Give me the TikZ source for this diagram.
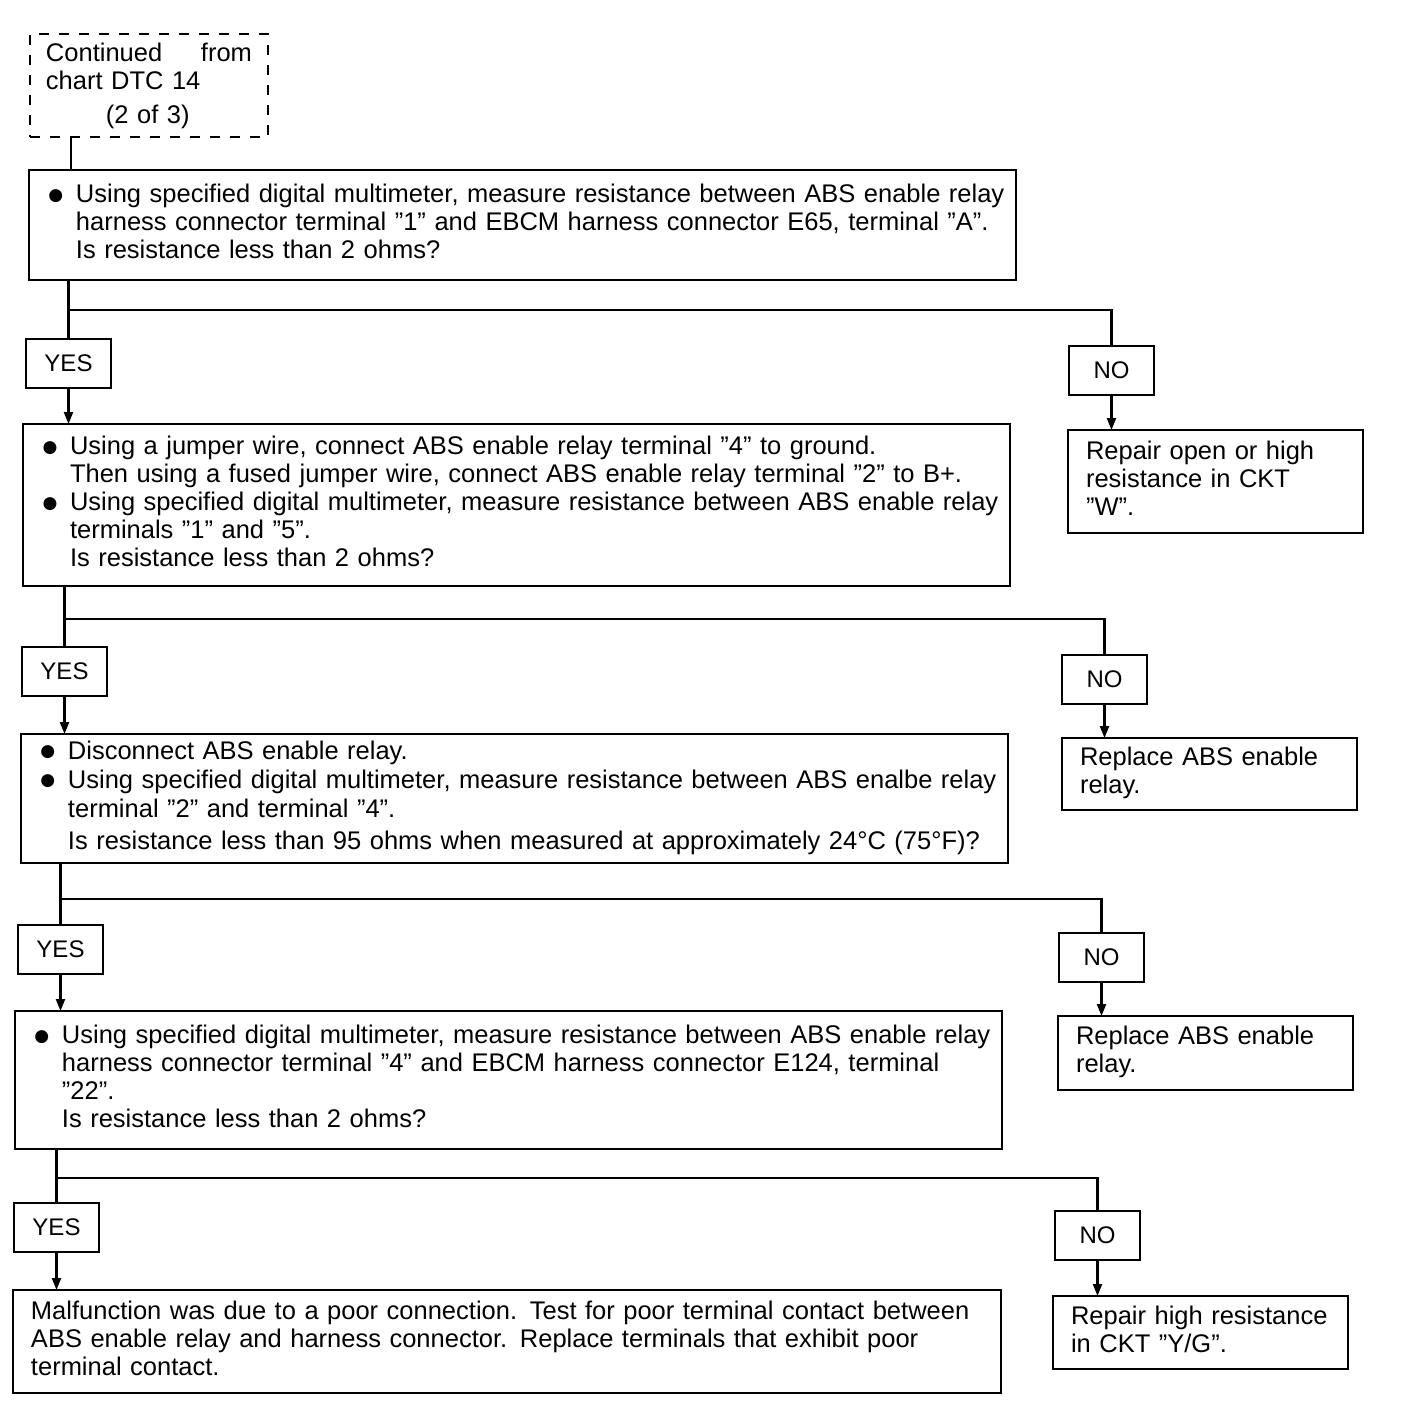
\documentclass[tikz,border=0pt]{standalone}
\usepackage{fontspec}
\setmainfont{Liberation Sans}
\newfontfamily\symbfont{DejaVu Sans}
\usepackage{tikz}
\usetikzlibrary{arrows.meta, positioning}

\newcommand{\bigbullet}{\raisebox{1.2pt}{\symbfont\fontsize{8.5}{14}\selectfont ●}}

\begin{document}
\begin{tikzpicture}[
    x=0.5pt, y=0.5pt,
    line width=1.1pt,
    contbox/.style={rectangle, draw, dash pattern=on 5pt off 5pt, anchor=north west, outer sep=0pt, text width=103pt, inner xsep=8pt, inner ysep=0pt, minimum height=51.5pt, align=left, font=\fontsize{12.75}{14}\selectfont},
    qbox/.style={rectangle, draw, anchor=north west, outer sep=0pt, text width=476pt, inner xsep=8.75pt, inner ysep=0pt, align=left, font=\fontsize{12.75}{14}\selectfont},
    ansbox/.style={rectangle, draw, outer sep=0pt, minimum width=42.5pt, minimum height=24.5pt, inner sep=0pt, font=\fontsize{12}{14}\selectfont},
    fixbox/.style={rectangle, draw, anchor=north west, outer sep=0pt, text width=129.5pt, inner xsep=9pt, inner ysep=0pt, align=left, font=\fontsize{12.75}{14}\selectfont},
    arrow/.style={-{Triangle[length=6pt, width=4.5pt]}}
]
\useasboundingbox (0,0) rectangle (1408,-1414);

% Top: entry from the previous chart
\node[contbox] (cont) at (30,-34) {Continued\hfill from\\chart DTC 14\\[3pt]\hspace*{30pt}(2 of 3)};

% Row 1: CKT W check
\node[qbox, minimum height=55pt, below=16.5pt of cont.south west, anchor=north west, xshift=-0.5pt] (q1) {%
\begin{tabular}{@{\hspace{1pt}}p{13.75pt}@{}l@{}}
\bigbullet & Using specified digital multimeter, measure resistance between ABS enable relay\\
 & harness connector terminal ”1” and EBCM harness connector E65, terminal ”A”.\\
 & Is resistance less than 2 ohms?
\end{tabular}};
\node[ansbox, below=29.5pt of q1.south west, anchor=north west, xshift=-1.5pt] (yes1) {YES};
\node[ansbox, below right=33pt and 26.5pt of q1.south east] (no1) {NO};
\node[fixbox, minimum height=51.5pt, below=17.5pt of no1.south west, anchor=north west, xshift=-0.5pt] (fix1) {%
\begin{tabular}{@{}l@{}}
Repair open or high\\
resistance in CKT\\
”W”.
\end{tabular}};

% Row 2: relay contacts
\node[qbox, minimum height=81pt, below=18pt of yes1.south west, anchor=north west, xshift=-1.5pt] (q2) {%
\begin{tabular}{@{\hspace{1pt}}p{13.75pt}@{}l@{}}
\bigbullet & Using a jumper wire, connect ABS enable relay terminal ”4” to ground.\\
 & Then using a fused jumper wire, connect ABS enable relay terminal ”2” to B+.\\
\bigbullet & Using specified digital multimeter, measure resistance between ABS enable relay\\
 & terminals ”1” and ”5”.\\
 & Is resistance less than 2 ohms?
\end{tabular}};
\node[ansbox, below=30.5pt of q2.south west, anchor=north west, xshift=-0.5pt] (yes2) {YES};
\node[ansbox, below right=34.5pt and 26pt of q2.south east] (no2) {NO};
\node[fixbox, minimum height=36pt, below=17pt of no2.south west, anchor=north west] (fix2) {%
\begin{tabular}{@{}l@{}}
Replace ABS enable\\
relay.
\end{tabular}};

% Row 3: relay coil
\node[qbox, minimum height=64.5pt, font=\fontsize{12.75}{14.5}\selectfont, below=19pt of yes2.south west, anchor=north west, xshift=-0.5pt] (q3) {%
\begin{tabular}{@{\hspace{1pt}}p{13.75pt}@{}l@{}}
\bigbullet & Disconnect ABS enable relay.\\
\bigbullet & Using specified digital multimeter, measure resistance between ABS enalbe relay\\
 & terminal ”2” and terminal ”4”.\\[1.5pt]
 & Is resistance less than 95 ohms when measured at approximately 24°C (75°F)?
\end{tabular}};
\node[ansbox, below=31pt of q3.south west, anchor=north west, xshift=-1.5pt] (yes3) {YES};
\node[ansbox, below right=35pt and 25.5pt of q3.south east] (no3) {NO};
\node[fixbox, minimum height=37pt, below=17pt of no3.south west, anchor=north west, xshift=-0.5pt] (fix3) {%
\begin{tabular}{@{}l@{}}
Replace ABS enable\\
relay.
\end{tabular}};

% Row 4: CKT Y/G check
\node[qbox, minimum height=69pt, below=18.5pt of yes3.south west, anchor=north west, xshift=-1.5pt] (q4) {%
\begin{tabular}{@{\hspace{1pt}}p{13.75pt}@{}l@{}}
\bigbullet & Using specified digital multimeter, measure resistance between ABS enable relay\\
 & harness connector terminal ”4” and EBCM harness connector E124, terminal\\
 & ”22”.\\
 & Is resistance less than 2 ohms?
\end{tabular}};
\node[ansbox, below=27pt of q4.south west, anchor=north west, xshift=-0.5pt] (yes4) {YES};
\node[ansbox, below right=31pt and 26.5pt of q4.south east] (no4) {NO};
\node[fixbox, minimum height=36.5pt, below=18pt of no4.south west, anchor=north west, xshift=-1pt] (fix4) {%
\begin{tabular}{@{}l@{}}
Repair high resistance\\
in CKT ”Y/G”.
\end{tabular}};

% Bottom: end of chart
\node[qbox, minimum height=51.5pt, inner xsep=9pt, below=19pt of yes4.south west, anchor=north west, xshift=-0.5pt] (done) {%
\begin{tabular}{@{}l@{}}
Malfunction was due to a poor connection. Test for poor terminal contact between\\
ABS enable relay and harness connector. Replace terminals that exhibit poor\\
terminal contact.
\end{tabular}};

% Connectors
\coordinate (stem0) at ([xshift=20.5pt]cont.south west);
\draw (stem0) -- (stem0 |- q1.north);

\coordinate (split1) at ([yshift=-15pt]q1.south);
\draw (yes1.north |- q1.south) -- (yes1.north);
\draw (yes1.north |- split1) -| (no1.north);
\draw[arrow] (yes1.south) -- (yes1.south |- q2.north);
\draw[arrow] (no1.south) -- (no1.south |- fix1.north);

\coordinate (split2) at ([yshift=-16.5pt]q2.south);
\draw (yes2.north |- q2.south) -- (yes2.north);
\draw (yes2.north |- split2) -| (no2.north);
\draw[arrow] (yes2.south) -- (yes2.south |- q3.north);
\draw[arrow] (no2.south) -- (no2.south |- fix2.north);

\coordinate (split3) at ([yshift=-18pt]q3.south);
\draw (yes3.north |- q3.south) -- (yes3.north);
\draw (yes3.north |- split3) -| (no3.north);
\draw[arrow] (yes3.south) -- (yes3.south |- q4.north);
\draw[arrow] (no3.south) -- (no3.south |- fix3.north);

\coordinate (split4) at ([yshift=-14.5pt]q4.south);
\draw (yes4.north |- q4.south) -- (yes4.north);
\draw (yes4.north |- split4) -| (no4.north);
\draw[arrow] (yes4.south) -- (yes4.south |- done.north);
\draw[arrow] (no4.south) -- (no4.south |- fix4.north);

\end{tikzpicture}
\end{document}
